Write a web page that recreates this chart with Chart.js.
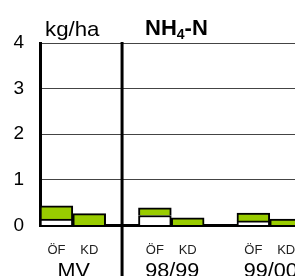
<!DOCTYPE html>
<html>
<head>
<meta charset="utf-8">
<script src="https://cdn.jsdelivr.net/npm/chart.js@4"></script>
<style>
html,body{margin:0;padding:0;background:#fff;overflow:hidden;width:295px;height:276px;}
#wrap{position:absolute;left:0;top:0;width:336px;height:276px;}
</style>
</head>
<body>
<div id="wrap"><canvas id="c" width="336" height="276"></canvas></div>
<script>
const categories = ['ÖF','KD','','ÖF','KD','','ÖF','KD',''];
const groups = ['MV','98/99','99/00'];
const whiteValues = [0.14, 0, null, 0.22, 0, null, 0.10, 0, null];
const greenValues = [0.29, 0.26, null, 0.17, 0.17, null, 0.17, 0.14, null];
const yTicks = [0, 1, 2, 3, 4];
const unitLabel = 'kg/ha';
const titleMain = 'NH';
const titleSub = '4';
const titleRest = '-N';

const FONT = '"Liberation Sans", Arial, sans-serif';

function stretchText(ctx, text, x, y, sx, align) {
  ctx.save();
  ctx.translate(x, y);
  ctx.scale(sx, 1);
  ctx.textAlign = align;
  ctx.fillText(text, 0, 0);
  ctx.restore();
}

const extras = {
  id: 'extras',
  afterDraw(chart) {
    const ctx = chart.ctx;
    const xs = chart.scales.x;
    const ca = chart.chartArea;
    ctx.save();
    // separator between mean and years
    const sx = xs.getPixelForValue(2);
    ctx.strokeStyle = '#000';
    ctx.lineWidth = 3;
    ctx.beginPath();
    ctx.moveTo(sx, ca.top - 1);
    ctx.lineTo(sx, chart.height);
    ctx.stroke();
    // group labels
    ctx.fillStyle = '#000';
    ctx.font = '20px ' + FONT;
    ctx.textBaseline = 'alphabetic';
    groups.forEach((g, i) => {
      const cx = (xs.getPixelForValue(3 * i) + xs.getPixelForValue(3 * i + 1)) / 2;
      stretchText(ctx, g, cx + 1, 277, 1.08, 'center');
    });
    // unit label
    ctx.font = '21px ' + FONT;
    stretchText(ctx, unitLabel, 45, 36, 1.06, 'left');
    // title
    ctx.textAlign = 'left';
    let x = 145;
    ctx.font = 'bold 22px ' + FONT;
    ctx.fillText(titleMain, x, 35);
    x += ctx.measureText(titleMain).width;
    ctx.font = 'bold 14px ' + FONT;
    ctx.fillText(titleSub, x, 39);
    x += ctx.measureText(titleSub).width;
    ctx.font = 'bold 22px ' + FONT;
    ctx.fillText(titleRest, x, 35);
    ctx.restore();
  }
};

new Chart(document.getElementById('c'), {
  type: 'bar',
  data: {
    labels: categories,
    datasets: [
      { label: 'base', data: whiteValues, backgroundColor: '#ffffff', borderColor: '#000', borderWidth: 2, stack: 's' },
      { label: 'top', data: greenValues, backgroundColor: '#99cc00', borderColor: '#000', borderWidth: 2, stack: 's' }
    ]
  },
  options: {
    responsive: false,
    animation: false,
    devicePixelRatio: 1,
    layout: { padding: { top: 43, left: 0, right: 0, bottom: 0 } },
    plugins: { legend: { display: false }, tooltip: { enabled: false }, title: { display: false } },
    datasets: { bar: { barPercentage: 1, categoryPercentage: 1, borderSkipped: 'start' } },
    scales: {
      x: {
        stacked: true,
        grid: { display: false, drawTicks: false },
        border: { display: true, color: '#000', width: 3 },
        ticks: { color: '#222', font: { size: 13, family: FONT }, padding: 17, maxRotation: 0, autoSkip: false },
        afterFit(s) { s.height = 50.5; }
      },
      y: {
        stacked: true,
        min: 0, max: 4,
        afterBuildTicks(s) { s.ticks = yTicks.map(v => ({ value: v })); },
        grid: { color: '#444', lineWidth: 1, drawTicks: false },
        border: { display: true, color: '#000', width: 3 },
        ticks: { color: '#000', font: { size: 19, family: FONT }, padding: 16 },
        afterFit(s) { s.width = 40; }
      }
    }
  },
  plugins: [extras]
});
</script>
</body>
</html>
